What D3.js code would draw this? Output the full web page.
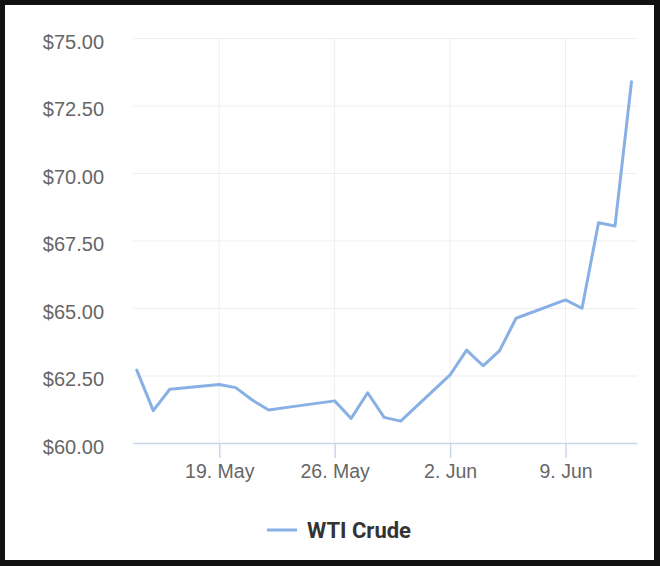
<!DOCTYPE html>
<html>
<head>
<meta charset="utf-8">
<script src="https://cdn.jsdelivr.net/npm/d3@7"></script>
<style>
  body { margin: 0; background: #111; }
  svg { display: block; font-family: Roboto, "Noto Sans", sans-serif; }
</style>
</head>
<body>
<svg id="chart"></svg>
<script>
// WTI crude daily closes, mid May - mid June
const dates = ['2025-05-14', '2025-05-15', '2025-05-16', '2025-05-19', '2025-05-20',
  '2025-05-21', '2025-05-22', '2025-05-23', '2025-05-26', '2025-05-27', '2025-05-28',
  '2025-05-29', '2025-05-30', '2025-06-02', '2025-06-03', '2025-06-04', '2025-06-05',
  '2025-06-06', '2025-06-09', '2025-06-10', '2025-06-11', '2025-06-12', '2025-06-13'];
const prices = [62.70, 61.20, 61.99, 62.17, 62.05,
  61.59, 61.22, 61.31, 61.56, 60.91, 61.86,
  60.95, 60.81, 62.52, 63.44, 62.86, 63.42,
  64.62, 65.30, 64.99, 68.16, 68.04, 73.38];
const xTicks = ['2025-05-19', '2025-05-26', '2025-06-02', '2025-06-09'];
const yTicks = [60, 62.5, 65, 67.5, 70, 72.5, 75];
const seriesName = 'WTI Crude';

(function () {
  const W = 660, H = 566;
  const parse = d3.utcParse('%Y-%m-%d');
  const data = dates.map((d, i) => ({date: parse(d), value: prices[i]}));

  const svg = d3.select('#chart').attr('width', W).attr('height', H);

  svg.append('rect').attr('width', W).attr('height', H).attr('fill', '#111');
  svg.append('rect')
      .attr('x', 5).attr('y', 5)
      .attr('width', 649).attr('height', 555)
      .attr('fill', '#fff');

  const plotLeft = 133, plotRight = 637, plotTop = 38, plotBottom = 443;

  const x = d3.scaleUtc()
      .domain([Date.UTC(2025, 4, 13, 18, 30), Date.UTC(2025, 5, 13, 8)])
      .range([plotLeft, plotRight]);

  const y = d3.scaleLinear()
      .domain([60, 75])
      .range([plotBottom, plotTop]);

  // horizontal grid + y labels
  const axisY = svg.append('g')
      .attr('transform', `translate(${plotRight},0)`)
      .call(d3.axisLeft(y)
        .tickValues(yTicks)
        .tickSizeInner(plotRight - plotLeft)
        .tickSizeOuter(0)
        .tickPadding(29)
        .tickFormat(d => '$' + d.toFixed(2)));
  axisY.select('.domain').remove();
  axisY.selectAll('.tick line').attr('stroke', '#eeeeee').attr('stroke-width', 1);
  axisY.selectAll('.tick text')
      .attr('fill', '#666')
      .attr('font-size', 20)
      .attr('dy', '0.5em');

  // vertical grid
  svg.append('g')
    .selectAll('line')
    .data(xTicks.map(parse))
    .enter().append('line')
      .attr('x1', d => x(d)).attr('x2', d => x(d))
      .attr('y1', plotTop).attr('y2', plotBottom)
      .attr('stroke', '#eeeeee');

  // x axis
  const axisX = svg.append('g')
      .attr('transform', `translate(0,${plotBottom})`)
      .call(d3.axisBottom(x)
        .tickValues(xTicks.map(parse))
        .tickSizeInner(15)
        .tickSizeOuter(0)
        .tickPadding(6)
        .tickFormat(d3.utcFormat('%-d. %b')));
  axisX.select('.domain').attr('stroke', '#ccd6eb').attr('stroke-width', 1.5);
  axisX.selectAll('.tick line').attr('stroke', '#ccd6eb').attr('stroke-width', 1.5);
  axisX.selectAll('.tick text')
      .attr('fill', '#666')
      .attr('font-size', 19.5);

  const line = d3.line()
      .x(d => x(d.date))
      .y(d => y(d.value));

  svg.append('path')
      .datum(data)
      .attr('fill', 'none')
      .attr('stroke', '#88b0e4')
      .attr('stroke-width', 3)
      .attr('stroke-linejoin', 'round')
      .attr('stroke-linecap', 'round')
      .attr('d', line);

  // legend
  const legend = svg.append('g').attr('transform', 'translate(267,530)');
  legend.append('line')
      .attr('x1', 0).attr('x2', 30)
      .attr('stroke', '#88b0e4')
      .attr('stroke-width', 3);
  legend.append('text')
      .attr('x', 40)
      .attr('dy', '0.36em')
      .attr('fill', '#333')
      .attr('font-size', 22)
      .attr('font-weight', 'bold')
      .text(seriesName);
})();
</script>
</body>
</html>
